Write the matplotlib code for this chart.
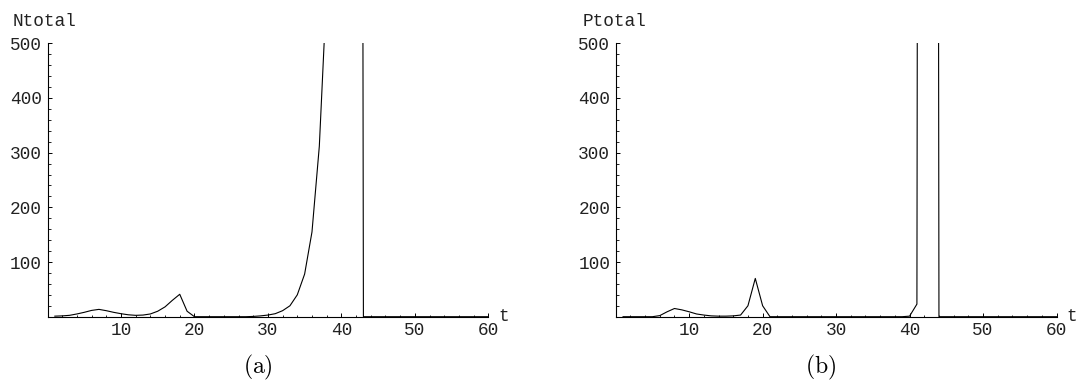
import matplotlib
matplotlib.use("Agg")
import matplotlib.pyplot as plt
from matplotlib.ticker import MultipleLocator

# ---- data ----
t = list(range(1, 61))

ntotal = ([1, 1.5, 2.5, 5, 8, 11.5, 13.4, 11, 8, 5.5,
           3.5, 2.5, 3, 5, 10, 18, 30, 41, 10, 0,
           0, 0, 0, 0, 0, 0, 0, 0.5, 1.5, 3,
           5.5, 11, 20, 40, 78, 155, 312, 600, 1150, 2200,
           4200, 8000, 0]
          + [0] * 17)

ptotal = ([0, 0, 0, 0, 0, 2, 9, 15, 12.5, 9,
           5, 3, 1.5, 1, 1, 1.5, 3, 20, 70, 20,
           0, 0, 0, 0, 0, 0, 0, 0, 0, 0,
           0, 0, 0, 0, 0, 0, 0, 0, 0, 1,
           23, 10000, 10000, 0]
          + [0] * 16)

ylabels = ["Ntotal", "Ptotal"]
captions = ["(a)", "(b)"]
x_ticks = [10, 20, 30, 40, 50, 60]
y_ticks = [100, 200, 300, 400, 500]

W, H = 1086, 385
fig = plt.figure(figsize=(W / 100, H / 100), dpi=100)

mono = "Liberation Mono"
fs = 12.8
txt_color = "#222222"

panels = [
    (47.5, ntotal, ylabels[0], captions[0], 257.5, 13.0),
    (615.7, ptotal, ylabels[1], captions[1], 821.0, 583.0),
]

ax_w = 440.8
ax_bottom_px = 316.7
ax_top_px = 43.3

for left_px, series, ylab, cap, cap_x, ylab_x in panels:
    ax = fig.add_axes([left_px / W, (H - ax_bottom_px) / H,
                       ax_w / W, (ax_bottom_px - ax_top_px) / H])
    ax.plot(t, series, color="black", lw=0.8, clip_on=True)
    ax.set_xlim(0, 60)
    ax.set_ylim(0, 500)
    for s in ["top", "right"]:
        ax.spines[s].set_visible(False)
    for s in ["left", "bottom"]:
        ax.spines[s].set_linewidth(0.8)
    ax.set_xticks(x_ticks)
    ax.set_yticks(y_ticks)
    ax.xaxis.set_minor_locator(MultipleLocator(2))
    ax.yaxis.set_minor_locator(MultipleLocator(20))
    ax.tick_params(which="major", direction="in", length=3.2, width=0.7,
                   labelsize=fs, pad=4, labelcolor=txt_color)
    ax.tick_params(which="minor", direction="in", length=1.8, width=0.6)
    for lbl in ax.get_xticklabels() + ax.get_yticklabels():
        lbl.set_family(mono)
    fig.text(ylab_x / W, 1 - 21.5 / H, ylab, fontsize=fs, family=mono,
             ha="left", va="center", color=txt_color)
    ax.text(61.4, 0, "t", fontsize=fs, family=mono, ha="left",
            va="center", clip_on=False, color=txt_color)
    fig.text(cap_x / W, 1 - 367 / H, r"$\mathrm{" + cap + "}$",
             fontsize=17, ha="center", va="center",
             math_fontfamily="cm")

fig.savefig("out.png", dpi=100)
